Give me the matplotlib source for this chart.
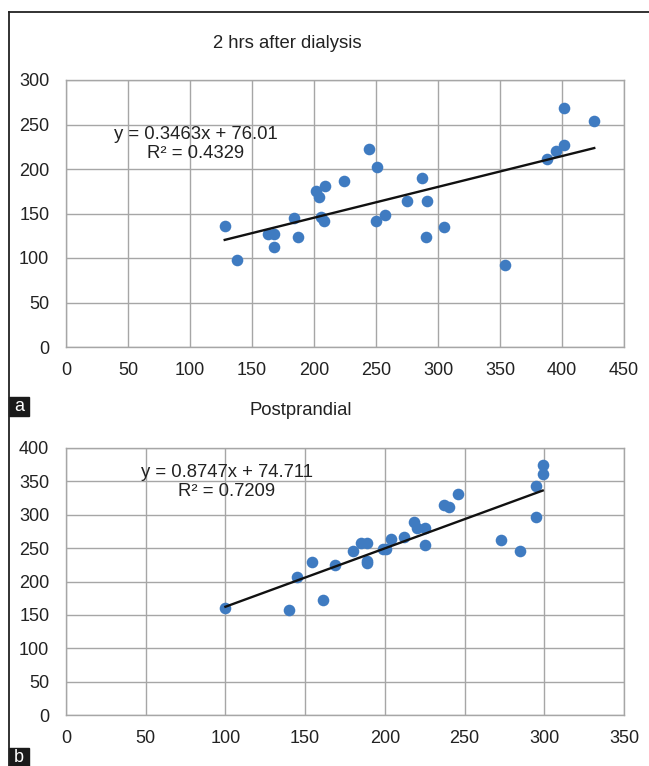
import numpy as np
import matplotlib
matplotlib.use('Agg')
import matplotlib.pyplot as plt
from matplotlib.lines import Line2D
from matplotlib.patches import Rectangle

# panel a: 2 hrs after dialysis
dial_x = [128, 138, 163, 168, 168, 184, 187, 202, 204, 209, 206, 208, 224, 244,
          251, 250, 257, 275, 287, 291, 290, 305, 354, 388, 395, 402, 402, 426]
dial_y = [136, 98, 127, 127, 112, 145, 124, 175, 168, 181, 146, 142, 187, 222,
          202, 142, 148, 164, 190, 164, 124, 135, 92, 211, 220, 227, 269, 254]
dial_slope = 0.3463
dial_icpt = 76.01

# panel b: postprandial
post_x = [100, 140, 145, 154, 161, 169, 180, 185, 189, 189, 189, 199, 201, 204,
          212, 218, 220, 225, 225, 237, 240, 246, 273, 285, 295, 295, 299, 299]
post_y = [160, 157, 206, 229, 173, 225, 246, 257, 257, 231, 228, 248, 249, 264,
          266, 289, 280, 280, 255, 315, 312, 331, 262, 246, 343, 296, 375, 361]
post_slope = 0.8747
post_icpt = 74.711

W, H = 649, 766
plt.rcParams['font.family'] = ['Liberation Sans', 'DejaVu Sans']

fig = plt.figure(figsize=(W / 100, H / 100), dpi=100)

def fx(px):
    return px / W

def fy(py):
    return 1 - py / H

dot_color = '#3f7bc1'
grid_color = '#a6a6a6'

def panel(rect, xs, ys, slope, icpt, xmax, ymax, step, title, tpos, eq, eqpos):
    l, t, r, b = rect
    ax = fig.add_axes([fx(l), fy(b), fx(r) - fx(l), fy(t) - fy(b)])
    ax.set_xlim(0, xmax)
    ax.set_ylim(0, ymax)
    ax.set_xticks(np.arange(0, xmax + 1, 50))
    ax.set_yticks(np.arange(0, ymax + 1, step))
    ax.grid(True, color=grid_color, linewidth=1.0)
    ax.set_axisbelow(True)
    for s in ax.spines.values():
        s.set_color(grid_color)
        s.set_linewidth(1.0)
    ax.tick_params(length=0, labelsize=13, labelcolor='#222222')
    ax.tick_params(axis='x', pad=11)
    ax.tick_params(axis='y', pad=12)
    ax.scatter(xs, ys, s=70, color=dot_color, zorder=3, linewidths=0)
    lx = np.array([min(xs), max(xs)])
    ax.plot(lx, slope * lx + icpt, color='#111111', linewidth=1.7, zorder=4)
    fig.text(fx(tpos[0]), fy(tpos[1]), title, ha='center', va='center',
             fontsize=13.3, color='#222222')
    fig.text(fx(eqpos[0]), fy(eqpos[1]), eq, ha='center', va='center',
             fontsize=13.3, color='#222222', linespacing=1.2)
    return ax

panel((66, 80, 624, 347), dial_x, dial_y, dial_slope, dial_icpt, 450, 300, 50,
      '2 hrs after dialysis', (287, 43),
      'y = %.4fx + %.2f\nR² = 0.4329' % (dial_slope, dial_icpt), (196, 144))
panel((66, 448, 624, 715), post_x, post_y, post_slope, post_icpt, 350, 400, 50,
      'Postprandial', (301, 411),
      'y = %.4fx + %.3f\nR² = 0.7209' % (post_slope, post_icpt), (227, 482))

# outer frame (left and top only)
fig.add_artist(Line2D([fx(9), fx(9)], [fy(12), fy(766)], color='#222222', lw=1.3))
fig.add_artist(Line2D([fx(9), fx(649)], [fy(12), fy(12)], color='#222222', lw=1.3))

# panel letters
for letter, top in [('a', 397), ('b', 748)]:
    fig.add_artist(Rectangle((fx(9), fy(top + 19)), fx(20), 19 / H,
                             color='#1a1a1a', transform=fig.transFigure))
    fig.text(fx(19), fy(top + 9.5), letter, color='white', ha='center',
             va='center', fontsize=13)

plt.savefig('out.png', dpi=100)
